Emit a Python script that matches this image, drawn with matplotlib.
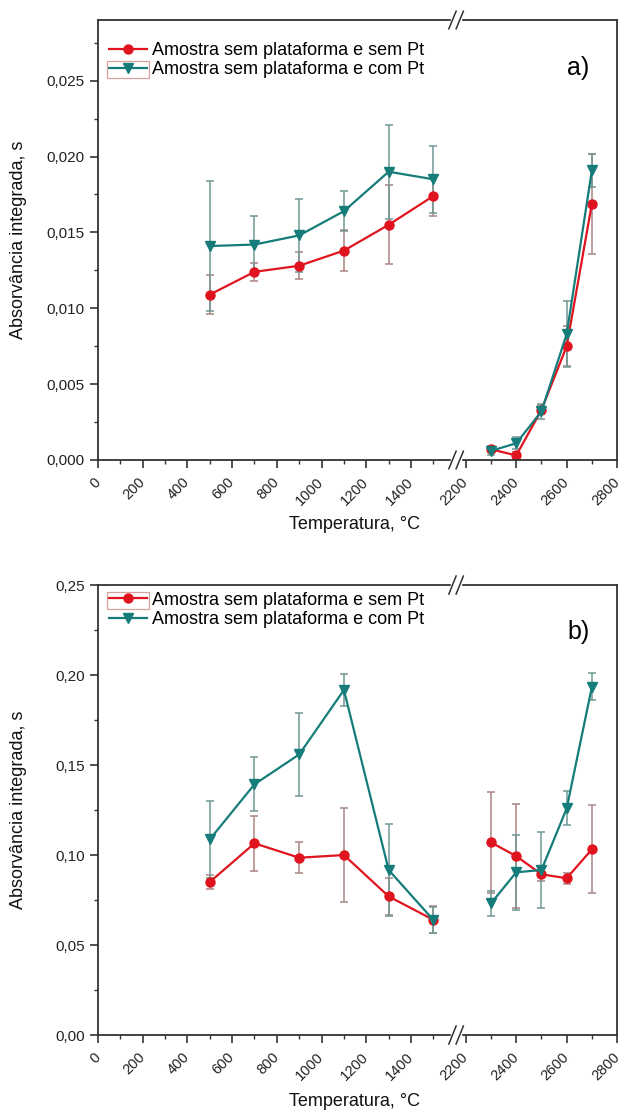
import numpy as np
import matplotlib
matplotlib.use("Agg")
import matplotlib.pyplot as plt
from matplotlib.ticker import FixedLocator, FuncFormatter, MultipleLocator
from matplotlib.patches import Rectangle
from matplotlib.transforms import ScaledTranslation

plt.rcParams["font.family"] = ["Liberation Sans", "DejaVu Sans"]

# ---- data ----
temp_low = [500, 700, 900, 1100, 1300, 1500]
temp_high = [2300, 2400, 2500, 2600, 2700]

# a) panel
a_sem_low = [0.0109, 0.0124, 0.0128, 0.0138, 0.0155, 0.0174]
a_sem_low_err = [0.0013, 0.0006, 0.0009, 0.00135, 0.0026, 0.0013]
a_sem_high = [0.0007, 0.0003, 0.0033, 0.0075, 0.0169]
a_sem_high_err = [0.0002, 0.0002, 0.0003, 0.0013, 0.0033]
a_com_low = [0.0141, 0.0142, 0.0148, 0.0164, 0.0190, 0.0185]
a_com_low_err = [0.0043, 0.0019, 0.0024, 0.0013, 0.0031, 0.0022]
a_com_high = [0.0006, 0.0011, 0.0032, 0.0083, 0.0191]
a_com_high_err = [0.0003, 0.0004, 0.0005, 0.0022, 0.0011]

# b) panel
b_sem_low = [0.085, 0.1065, 0.0985, 0.100, 0.077, 0.064]
b_sem_low_err = [0.004, 0.0153, 0.0085, 0.026, 0.0105, 0.0076]
b_sem_high = [0.107, 0.0994, 0.0893, 0.0871, 0.1032]
b_sem_high_err = [0.028, 0.029, 0.004, 0.003, 0.0245]
b_com_low = [0.1087, 0.1393, 0.1559, 0.1917, 0.0917, 0.0639]
b_com_low_err = [0.0215, 0.015, 0.023, 0.009, 0.0255, 0.0075]
b_com_high = [0.0732, 0.0904, 0.0917, 0.1259, 0.1935]
b_com_high_err = [0.007, 0.021, 0.021, 0.0094, 0.0076]

x_major = [0, 200, 400, 600, 800, 1000, 1200, 1400, 2200, 2400, 2600, 2800]
x_minor = [100, 300, 500, 700, 900, 1100, 1300, 1500, 2300, 2500, 2700]

label_sem = "Amostra sem plataforma e sem Pt"
label_com = "Amostra sem plataforma e com Pt"

RED = "#e0141e"
TEAL = "#157c7a"
RED_ERR = "#a98585"
TEAL_ERR = "#6f9795"
AXC = "#333333"

LEG_FS = 13.0
LEG_HL = 2.1
LEG_PAD = 0.25

# broken x axis: 0-1600 | 2200-2800 (right part slightly stretched)
STRETCH = 1.128
GAP = 45.0


def fwd(x):
    x = np.asarray(x, dtype=float)
    mid = 1600 + (x - 1600) * GAP / 600.0
    hi = 1600 + GAP + (x - 2200) * STRETCH
    return np.where(x <= 1600, x, np.where(x >= 2200, hi, mid))


def inv(u):
    u = np.asarray(u, dtype=float)
    mid = 1600 + (u - 1600) * 600.0 / GAP
    hi = 2200 + (u - 1600 - GAP) / STRETCH
    return np.where(u <= 1600, u, np.where(u >= 1600 + GAP, hi, mid))


def draw_panel(ax, sem, com, ylim, ystep, fmt, tag, leg_top, tag_y):
    handles = []
    for (xs, ys, es, col, ecol, mk, ms, lab) in [
        (temp_low, sem[0], sem[1], RED, RED_ERR, "o", 6.5, label_sem),
        (temp_high, sem[2], sem[3], RED, RED_ERR, "o", 6.5, None),
        (temp_low, com[0], com[1], TEAL, TEAL_ERR, "v", 7.5, label_com),
        (temp_high, com[2], com[3], TEAL, TEAL_ERR, "v", 7.5, None),
    ]:
        cont = ax.errorbar(xs, ys, yerr=es, color=col, ecolor=ecol, elinewidth=1.1,
                           capsize=3, capthick=1.1, marker=mk, ms=ms, lw=1.6)
        if lab:
            line = cont.lines[0]
            line.set_label(lab)
            handles.append(line)

    ax.set_xscale("function", functions=(fwd, inv))
    ax.set_xlim(0, 2800)
    ax.set_ylim(*ylim)
    ax.xaxis.set_major_locator(FixedLocator(x_major))
    ax.xaxis.set_minor_locator(FixedLocator(x_minor))
    ax.xaxis.set_major_formatter(FuncFormatter(lambda v, p: f"{v:.0f}"))
    ax.yaxis.set_major_locator(MultipleLocator(ystep))
    ax.yaxis.set_minor_locator(MultipleLocator(ystep / 2))
    ax.yaxis.set_major_formatter(FuncFormatter(lambda v, p: fmt.format(v).replace(".", ",")))
    ax.tick_params(which="major", direction="out", length=6, width=1.2,
                   color=AXC, labelcolor="#222222")
    ax.tick_params(axis="x", labelsize=10.5)
    ax.tick_params(axis="y", labelsize=11)
    ax.tick_params(which="minor", direction="out", length=3, width=1.0, color=AXC)
    shift = ScaledTranslation(-5 / 100, -2 / 100, ax.figure.dpi_scale_trans)
    for lab in ax.get_xticklabels():
        lab.set_rotation(45)
        lab.set_ha("right")
        lab.set_va("top")
        lab.set_rotation_mode("anchor")
        lab.set_transform(lab.get_transform() + shift)
    for sp in ax.spines.values():
        sp.set_color(AXC)
        sp.set_linewidth(1.3)

    ax.set_xlabel("Temperatura, °C", fontsize=13, color="#111111")
    ax.set_ylabel("Absorvância integrada, s", fontsize=13, color="#111111")
    ax.xaxis.set_label_coords(0.495, -0.128)
    ax.yaxis.set_label_coords(-0.137, 0.5)

    leg = ax.legend(handles=handles, loc="upper left", bbox_to_anchor=(0.022, leg_top),
                    frameon=False, fontsize=LEG_FS, handlelength=LEG_HL,
                    handletextpad=LEG_PAD, labelspacing=0.12,
                    borderaxespad=0.0, borderpad=0.0)
    ax.text(0.925, tag_y, tag, transform=ax.transAxes, fontsize=18,
            ha="center", va="center")

    # break marks on top and bottom spines
    bx = (fwd(1622) / fwd(2800)).item()
    for yy in (0.0, 1.0):
        ax.add_patch(Rectangle((bx - 0.009, yy - 0.006), 0.018, 0.012,
                               transform=ax.transAxes, color="white",
                               clip_on=False, zorder=5))
        for off in (-0.007, 0.007):
            ax.plot([bx + off - 0.007, bx + off + 0.007], [yy - 0.02, yy + 0.02],
                    transform=ax.transAxes, color=AXC, lw=1.1,
                    clip_on=False, zorder=6)
    return leg


fig = plt.figure(figsize=(6.24, 11.11), dpi=100)
ax_a = fig.add_axes([0.157, 0.586, 0.832, 0.396])
ax_b = fig.add_axes([0.157, 0.0684, 0.832, 0.405])

leg_a = draw_panel(ax_a, (a_sem_low, a_sem_low_err, a_sem_high, a_sem_high_err),
                   (a_com_low, a_com_low_err, a_com_high, a_com_high_err),
                   (0, 0.029), 0.005, "{:.3f}", "a)", 0.95, 0.89)
leg_b = draw_panel(ax_b, (b_sem_low, b_sem_low_err, b_sem_high, b_sem_high_err),
                   (b_com_low, b_com_low_err, b_com_high, b_com_high_err),
                   (0, 0.25), 0.05, "{:.2f}", "b)", 0.985, 0.896)

# thin selection box around one legend symbol, as in the original
fig.canvas.draw()
rend = fig.canvas.get_renderer()
fs_px = LEG_FS * fig.dpi / 72
for leg, idx in ((leg_a, 1), (leg_b, 0)):
    tb = leg.get_texts()[idx].get_window_extent(rend)
    x1 = tb.x0 - LEG_PAD * fs_px + 2
    x0 = x1 - LEG_HL * fs_px - 4
    rect = Rectangle((x0, tb.y0), x1 - x0, tb.height, fill=False,
                     edgecolor="#d9a0a0", lw=0.9, transform=None)
    fig.add_artist(rect)

fig.savefig("out.png", dpi=100)
